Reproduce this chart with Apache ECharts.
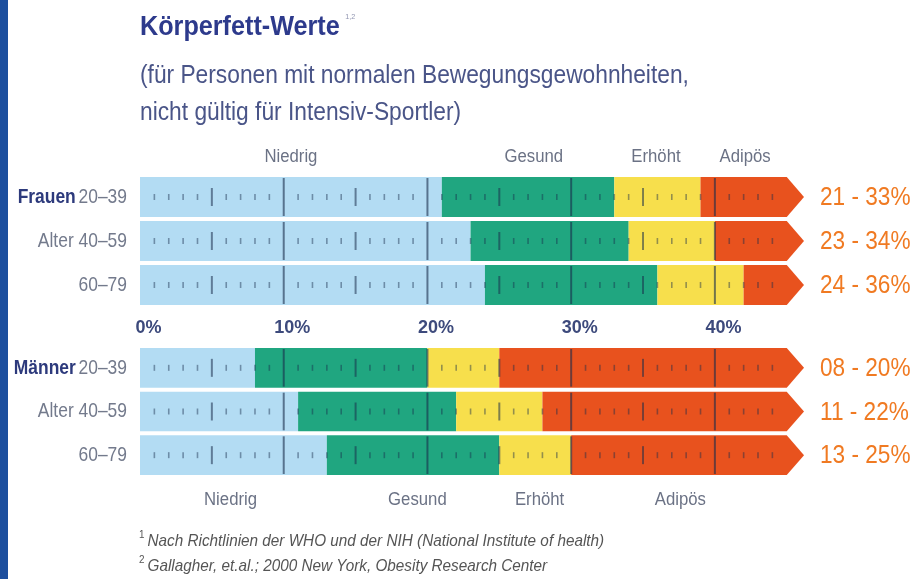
<!DOCTYPE html>
<html>
<head>
<meta charset="utf-8">
<script src="https://cdn.jsdelivr.net/npm/echarts@6.0.0/dist/echarts.min.js"></script>
<style>
html, body { margin: 0; padding: 0; background: #fff; }
#main { width: 918px; height: 579px; }
</style>
</head>
<body>
<div id="main"></div>
<script>
// data
var groupNames = ['Frauen', 'Männer'];
var ageGroups = ['20–39', '40–59', '60–79'];
// zone boundaries per row: end of Niedrig, end of Gesund, end of Erhöht
var frauenBounds = [[21, 33, 39], [23, 34, 40], [24, 36, 42]];
var maennerBounds = [[8, 20, 25], [11, 22, 28], [13, 25, 30]];
var frauenRanges = ['21 - 33%', '23 - 34%', '24 - 36%'];
var maennerRanges = ['08 - 20%', '11 - 22%', '13 - 25%'];
var zoneNames = ['Niedrig', 'Gesund', 'Erhöht', 'Adipös'];
var frauenZoneLabelAt = [10.5, 27.4, 35.9, 42.1];
var maennerZoneLabelAt = [6.3, 19.3, 27.8, 37.6];
var xTickLabels = ['0%', '10%', '20%', '30%', '40%'];
var barEnd = 45;
var arrowTip = 46.2;

var FONT = "'Liberation Sans', Arial, sans-serif";
var zoneColors = ['#b3dcf3', '#20a680', '#f7df4c', '#e8521e'];

var chart = echarts.init(document.getElementById('main'));

// one row: segments, arrow head, scale marks, left + right labels
function rowRenderer(groupIdx, ranges) {
    return function (params, api) {
        var row = api.value(0);
        var b = [0, api.value(1), api.value(2), api.value(3), barEnd];
        var yc = api.coord([0, row])[1];
        var h = api.size([0, 1])[1] - 4;
        var top = yc - h / 2, bot = yc + h / 2;
        var children = [];
        for (var i = 0; i < 4; i++) {
            var x0 = api.coord([b[i], row])[0];
            var x1 = api.coord([b[i + 1], row])[0];
            if (i < 3) {
                children.push({
                    type: 'rect',
                    shape: { x: x0, y: top, width: x1 - x0, height: h },
                    style: { fill: zoneColors[i] }
                });
            } else {
                var xt = api.coord([arrowTip, row])[0];
                children.push({
                    type: 'polygon',
                    shape: { points: [[x0, top], [x1, top], [xt, yc], [x1, bot], [x0, bot]] },
                    style: { fill: zoneColors[3] }
                });
            }
        }
        for (var t = 1; t < barEnd; t++) {
            var x = api.coord([t, row])[0];
            var len, w, col;
            if (t % 10 === 0) { len = h - 2; w = 2; col = 'rgba(25,45,75,0.6)'; }
            else if (t % 5 === 0) { len = 18; w = 2; col = 'rgba(25,45,75,0.55)'; }
            else { len = 6; w = 1.6; col = 'rgba(25,45,75,0.45)'; }
            children.push({
                type: 'line',
                shape: { x1: x, y1: yc - len / 2, x2: x, y2: yc + len / 2 },
                style: { stroke: col, lineWidth: w }
            });
        }
        // age label on the left
        var lbl;
        if (row === 0) lbl = '{b|' + groupNames[groupIdx] + '} {n|' + ageGroups[row] + '}';
        else if (row === 1) lbl = '{n|Alter ' + ageGroups[row] + '}';
        else lbl = '{n|' + ageGroups[row] + '}';
        children.push({
            type: 'text',
            x: api.coord([0, row])[0] - 13, y: yc, scaleX: 0.83,
            style: {
                text: lbl, align: 'right', verticalAlign: 'middle',
                rich: {
                    b: { fontFamily: FONT, fontSize: 21, fontWeight: 'bold', fill: '#2d3a7c' },
                    n: { fontFamily: FONT, fontSize: 21, fill: '#737a8c' }
                }
            }
        });
        // range on the right
        children.push({
            type: 'text',
            x: api.coord([arrowTip, row])[0] + 16, y: yc + 1, scaleX: 0.87,
            style: {
                text: ranges[row], align: 'left', verticalAlign: 'middle',
                font: '26px ' + FONT, fill: '#f07a22'
            }
        });
        return { type: 'group', children: children };
    };
}

function zoneLabelRenderer(rowIdx, dy) {
    return function (params, api) {
        var p = api.coord([api.value(0), rowIdx]);
        return {
            type: 'text',
            x: p[0], y: p[1] + dy, scaleX: 0.93,
            style: {
                text: zoneNames[params.dataIndex],
                align: 'center', verticalAlign: 'middle',
                font: '18px ' + FONT,
                fill: '#6b7285'
            }
        };
    };
}

function rowData(bounds) {
    return bounds.map(function (bd, i) { return [i, bd[0], bd[1], bd[2]]; });
}

function xAxisFor(gridIndex, showLabels) {
    return {
        type: 'value', gridIndex: gridIndex, min: 0, max: arrowTip, interval: 10,
        axisLine: { show: false }, axisTick: { show: false }, splitLine: { show: false },
        axisLabel: {
            show: showLabels, margin: 12,
            fontFamily: FONT, fontSize: 18, fontWeight: 'bold', color: '#3d4a7c',
            padding: [0, 0, 0, 17],
            showMaxLabel: false,
            formatter: function (v) {
                return v % 10 === 0 ? (xTickLabels[v / 10] || '') : '';
            }
        }
    };
}

function yAxisFor(gridIndex) {
    return {
        type: 'category', gridIndex: gridIndex, inverse: true, data: ageGroups,
        axisLine: { show: false }, axisTick: { show: false }, axisLabel: { show: false }
    };
}

var option = {
    animation: false,
    backgroundColor: '#ffffff',
    graphic: [{
        type: 'rect', x: 0, y: 0,
        shape: { width: 8, height: 579 },
        style: { fill: '#1d4f9e' }
    }, {
        type: 'text', x: 140, y: 27, scaleX: 0.9,
        style: {
            text: '{t|Körperfett-Werte}{s|1,2}', verticalAlign: 'middle',
            rich: {
                t: { fontFamily: FONT, fontSize: 28, fontWeight: 'bold', fill: '#2d3a8c' },
                s: { fontFamily: FONT, fontSize: 8, fill: '#9095b0', verticalAlign: 'top', padding: [0, 0, 16, 6] }
            }
        }
    }, {
        type: 'text', x: 140, y: 58, scaleX: 0.91,
        style: {
            text: '(für Personen mit normalen Bewegungsgewohnheiten,\nnicht gültig für Intensiv-Sportler)',
            font: '25px ' + FONT, fill: '#4a5588', lineHeight: 37, verticalAlign: 'top'
        }
    }, {
        type: 'text', x: 139, y: 529, scaleX: 0.9,
        style: {
            text: '{s|1} {i|Nach Richtlinien der WHO und der NIH (National Institute of health)}\n{s|2} {i|Gallagher, et.al.; 2000 New York, Obesity Research Center}',
            verticalAlign: 'top',
            rich: {
                s: { fontFamily: FONT, fontSize: 11, fill: '#555', verticalAlign: 'top', lineHeight: 25 },
                i: { fontFamily: FONT, fontSize: 17, fontStyle: 'italic', fill: '#555', lineHeight: 25 }
            }
        }
    }],
    grid: [
        { left: 140, top: 175, width: 664, height: 132, containLabel: false, outerBoundsMode: 'none' },
        { left: 140, top: 346, width: 664, height: 131, containLabel: false, outerBoundsMode: 'none' }
    ],
    xAxis: [xAxisFor(0, true), xAxisFor(1, false)],
    yAxis: [yAxisFor(0), yAxisFor(1)],
    series: [{
        type: 'custom', xAxisIndex: 0, yAxisIndex: 0,
        renderItem: rowRenderer(0, frauenRanges),
        encode: { x: [1, 2, 3], y: 0 },
        data: rowData(frauenBounds)
    }, {
        type: 'custom', xAxisIndex: 1, yAxisIndex: 1,
        renderItem: rowRenderer(1, maennerRanges),
        encode: { x: [1, 2, 3], y: 0 },
        data: rowData(maennerBounds)
    }, {
        type: 'custom', xAxisIndex: 0, yAxisIndex: 0,
        renderItem: zoneLabelRenderer(0, -40),
        data: frauenZoneLabelAt.map(function (v) { return [v]; })
    }, {
        type: 'custom', xAxisIndex: 1, yAxisIndex: 1,
        renderItem: zoneLabelRenderer(2, 45),
        data: maennerZoneLabelAt.map(function (v) { return [v]; })
    }]
};

chart.setOption(option);
</script>
</body>
</html>
